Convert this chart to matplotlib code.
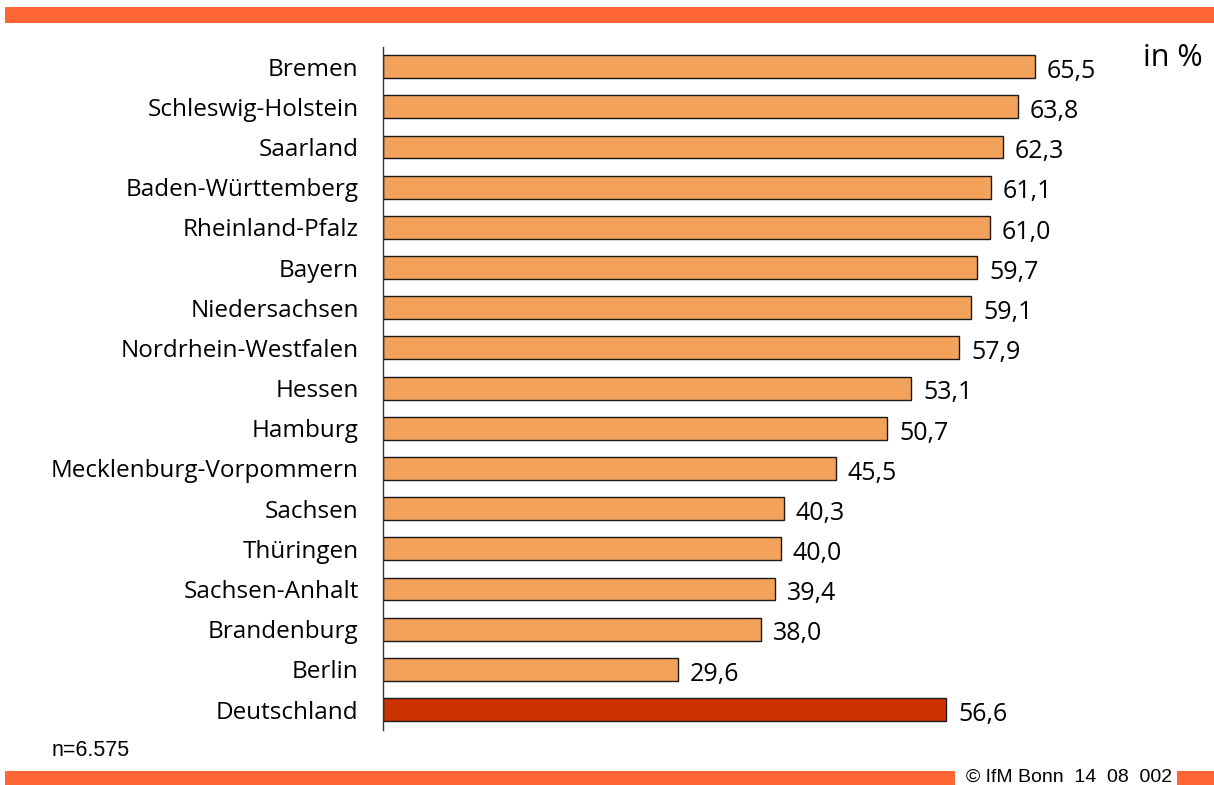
import matplotlib
matplotlib.use("Agg")
import matplotlib.pyplot as plt
from matplotlib.patches import Rectangle

categories = ["Bremen", "Schleswig-Holstein", "Saarland", "Baden-Württemberg",
              "Rheinland-Pfalz", "Bayern", "Niedersachsen", "Nordrhein-Westfalen",
              "Hessen", "Hamburg", "Mecklenburg-Vorpommern", "Sachsen", "Thüringen",
              "Sachsen-Anhalt", "Brandenburg", "Berlin", "Deutschland"]
values = [65.5, 63.8, 62.3, 61.1, 61.0, 59.7, 59.1, 57.9, 53.1, 50.7, 45.5,
          40.3, 40.0, 39.4, 38.0, 29.6, 56.6]
value_labels = ["65,5", "63,8", "62,3", "61,1", "61,0", "59,7", "59,1", "57,9",
                "53,1", "50,7", "45,5", "40,3", "40,0", "39,4", "38,0", "29,6", "56,6"]

W, H = 1214, 785
fig = plt.figure(figsize=(W / 100, H / 100), dpi=100)

band = "#FF6633"
fig.add_artist(Rectangle((5 / W, 1 - 23 / H), (W - 5) / W, 16 / H,
                         transform=fig.transFigure, color=band, lw=0))
fig.add_artist(Rectangle((5 / W, 0), (955 - 5) / W, 14 / H,
                         transform=fig.transFigure, color=band, lw=0))
fig.add_artist(Rectangle((1177 / W, 0), (W - 1177) / W, 14 / H,
                         transform=fig.transFigure, color=band, lw=0))

left = 383 / W
top = 1 - 46.5 / H
bottom = 1 - 729.6 / H
ax = fig.add_axes([left, bottom, 796 / W, top - bottom])

FONT = "Open Sans"
n = len(categories)
ypos = list(range(n))
colors = ["#F2A25A"] * (n - 1) + ["#CC3300"]
ax.barh(ypos, values, height=0.57, color=colors, edgecolor="#1a1a1a", linewidth=1.0)
ax.set_ylim(n - 0.5, -0.5)
ax.set_xlim(0, 80)
ax.set_yticks(ypos)
ax.set_yticklabels(categories, fontsize=17.5, family=FONT)
ax.tick_params(axis="y", length=0, pad=17.5)
ax.set_xticks([])
for s in ["top", "right", "bottom"]:
    ax.spines[s].set_visible(False)
ax.spines["left"].set_linewidth(1.0)
ax.spines["left"].set_color("#333333")

for y, v, lab in zip(ypos, values, value_labels):
    ax.text(v + 1.2, y + 0.12, lab, va="center", ha="left", fontsize=18, family=FONT)

fig.text(1143 / W, 1 - 58 / H, "in %", fontsize=22, family=FONT, va="center", ha="left")
fig.text(52 / W, 1 - 750 / H, "n=6.575", fontsize=15.5, family="Liberation Sans", va="center", ha="left")
fig.text(1172 / W, 1 - 777 / H, "© IfM Bonn  14  08  002",
         fontsize=14, family="Liberation Sans", va="center", ha="right")

fig.savefig("out.png", dpi=100)
